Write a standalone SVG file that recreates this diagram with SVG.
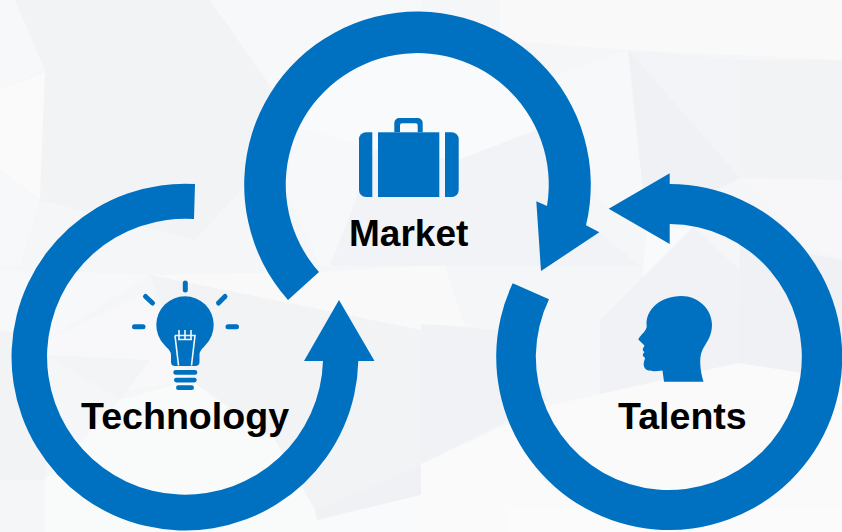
<svg xmlns="http://www.w3.org/2000/svg" width="842" height="532" viewBox="0 0 842 532">
  <style>
    .b{fill:#0070c0}
    .ray{stroke:#0070c0;stroke-width:5;stroke-linecap:round;fill:none}
    .fil{stroke:#f6f7f9;stroke-width:1.6;fill:none}
    .t{font-family:"Liberation Sans",Arial,sans-serif;font-weight:700;font-size:37.6px;fill:#000}
  </style>
  <g id="background">
    <rect width="842" height="532" fill="#f5f6f8"/>
    <g opacity="0.7">
      <polygon points="0,0 15,0 45,70 0,90" fill="#f9f9fa"/>
      <polygon points="0,90 45,72 40,200 0,170" fill="#fdfdfd"/>
      <polygon points="0,170 40,200 20,266 0,266" fill="#f8f9fa"/>
      <polygon points="15,0 210,0 280,100 250,180 195,240 40,200 45,70" fill="#f2f3f5"/>
      <polygon points="210,0 421,0 421,130 375,150 295,128 280,100" fill="#f9f9fa"/>
      <polygon points="295,128 375,150 421,135 421,266 320,266 285,190" fill="#f8f9fa"/>
      <polygon points="421,50 480,52 540,80 535,130 458,160 375,150 300,128 330,70" fill="#fcfcfd"/>
      <polygon points="375,150 458,160 538,130 560,200 640,266 421,266 330,266" fill="#f2f3f6"/>
      <polygon points="500,0 842,0 842,60 628,50 500,40" fill="#fbfbfc"/>
      <polygon points="628,50 740,60 740,178 670,130" fill="#f3f4f7"/>
      <polygon points="740,60 842,60 842,180 740,178" fill="#f1f2f5"/>
      <polygon points="628,50 740,178 640,230" fill="#eff0f4"/>
      <polygon points="540,80 628,50 647,230 600,200" fill="#f8f9fa"/>
      <polygon points="740,178 842,180 842,260 800,240" fill="#f8f8fa"/>
      <polygon points="647,230 642,283 693,227" fill="#fcfcfd"/>
      <polygon points="600,320 693,227 740,270 740,363 600,395" fill="#f0f1f4"/>
      <polygon points="740,240 842,260 842,379 738,363" fill="#eff0f3"/>
      <polygon points="421,266 445,266 465,326 421,324" fill="#fbfbfc"/>
      <polygon points="421,324 500,330 548,400 421,464" fill="#f0f1f4"/>
      <polygon points="421,464 548,406 738,363 842,379 842,532 421,532" fill="#fdfdfd"/>
      <polygon points="150,275 320,272 421,266 421,330" fill="#fbfbfc"/>
      <polygon points="0,270 150,275 47,340 0,330" fill="#f9f9fa"/>
      <polygon points="150,275 421,330 421,465 315,510 275,440 190,380" fill="#f1f2f5"/>
      <polygon points="47,340 150,290 190,380 130,390 47,355" fill="#fafafb"/>
      <polygon points="47,355 150,360 120,400" fill="#f3f4f5"/>
      <polygon points="120,400 190,380 275,440 315,510 320,532 45,532 45,480" fill="#fcfcfc"/>
      <polygon points="0,330 47,340 45,480 0,480" fill="#f2f3f5"/>
      <polygon points="315,510 421,465 421,495 317,520" fill="#eff0f3"/>
      <polygon points="317,520 421,495 421,532 320,532" fill="#fcfcfd"/>
    </g>
  </g>
  <g id="connectors">
    <path class="b" d="M195,184 A173.4,173.4 0 1 0 358.3,361 L374.5,361 L339,300 L304,361 L323,361 A138,138 0 1 1 194,219 Z"/>
    <path class="b" d="M288,300 A173.3,173.3 0 1 1 586,225.3 L599.3,232.3 L541,271 L536.3,201.3 L547,206 A131.5,131.5 0 1 0 319,272 Z"/>
    <path class="b" d="M669.7,184 A173,173 0 1 1 512.7,283.3 L549,299.3 A133,133 0 1 0 669.7,224 L669.7,244 L608.7,208.7 L669.7,173.3 Z"/>
  </g>
  <g id="node-technology">
    <line class="ray" x1="185.3" y1="283" x2="185.3" y2="290"/>
    <line class="ray" x1="145.5" y1="296.5" x2="152.5" y2="303"/>
    <line class="ray" x1="225" y1="296.5" x2="218.5" y2="303"/>
    <line class="ray" x1="134.5" y1="326.7" x2="143" y2="326.7"/>
    <line class="ray" x1="228" y1="326.7" x2="236.5" y2="326.7"/>
    <path class="b" d="M164.5,345 A28.7,28.7 0 1 1 205.5,345 C202,349 199.5,351 199.5,355 L199.5,362 Q199.5,366 195,366 L175,366 Q171,366 171,362 L171,355 C171,351 168,349 164.5,345 Z"/>
    <path class="fil" d="M175,335.5 H195 L191.5,365.5 M175,335.5 L178.5,365.5 M178,339.5 H192 M179,330 V339 M185,330 V339 M191,330 V339"/>
    <rect class="b" x="173.3" y="370" width="24" height="4.8" rx="2.4"/>
    <rect class="b" x="174" y="377.7" width="22.7" height="4.8" rx="2.4"/>
    <rect class="b" x="176" y="385.3" width="18" height="4.8" rx="2.4"/>
    <text class="t" x="81" y="428.7">Technology</text>
  </g>
  <g id="node-market">
    <path class="b" d="M372.3,132.3 V197 H366 A7,7 0 0 1 359,190 V139.3 A7,7 0 0 1 366,132.3 Z"/>
    <rect class="b" x="378" y="132.3" width="61.3" height="64.7"/>
    <path class="b" d="M445,132.3 H451.7 A7,7 0 0 1 458.7,139.3 V190 A7,7 0 0 1 451.7,197 H445 Z"/>
    <path class="b" d="M394.3,132.3 V123 A5,5 0 0 1 399.3,118 H417.7 A5,5 0 0 1 422.7,123 V132.3 H417.7 V125.3 A2,2 0 0 0 415.7,123.3 H402 A2,2 0 0 0 400,125.3 V132.3 Z"/>
    <text class="t" x="349" y="245.7" style="font-size:37px">Market</text>
  </g>
  <g id="node-talents">
    <path class="b" d="M681.5,296 C698,296 712,309 712,325 C712,337 705,344 702,351 C699,358 700,370 703.5,381.7 L664,381.7 L662.5,370.5 C656,371.5 650,371.5 647,370 C643.5,368 643,364 644.5,360 C645.5,358 645,357.5 643.5,356.5 C642,355 643.5,353 644.5,352 C643,351 642,349.5 643.5,347.5 L644.5,345.5 L638.3,339.5 C640,335 647,331 646.7,326 C645,310 660,296 681.5,296 Z"/>
    <text class="t" x="618" y="428.7">Talents</text>
  </g>
</svg>
